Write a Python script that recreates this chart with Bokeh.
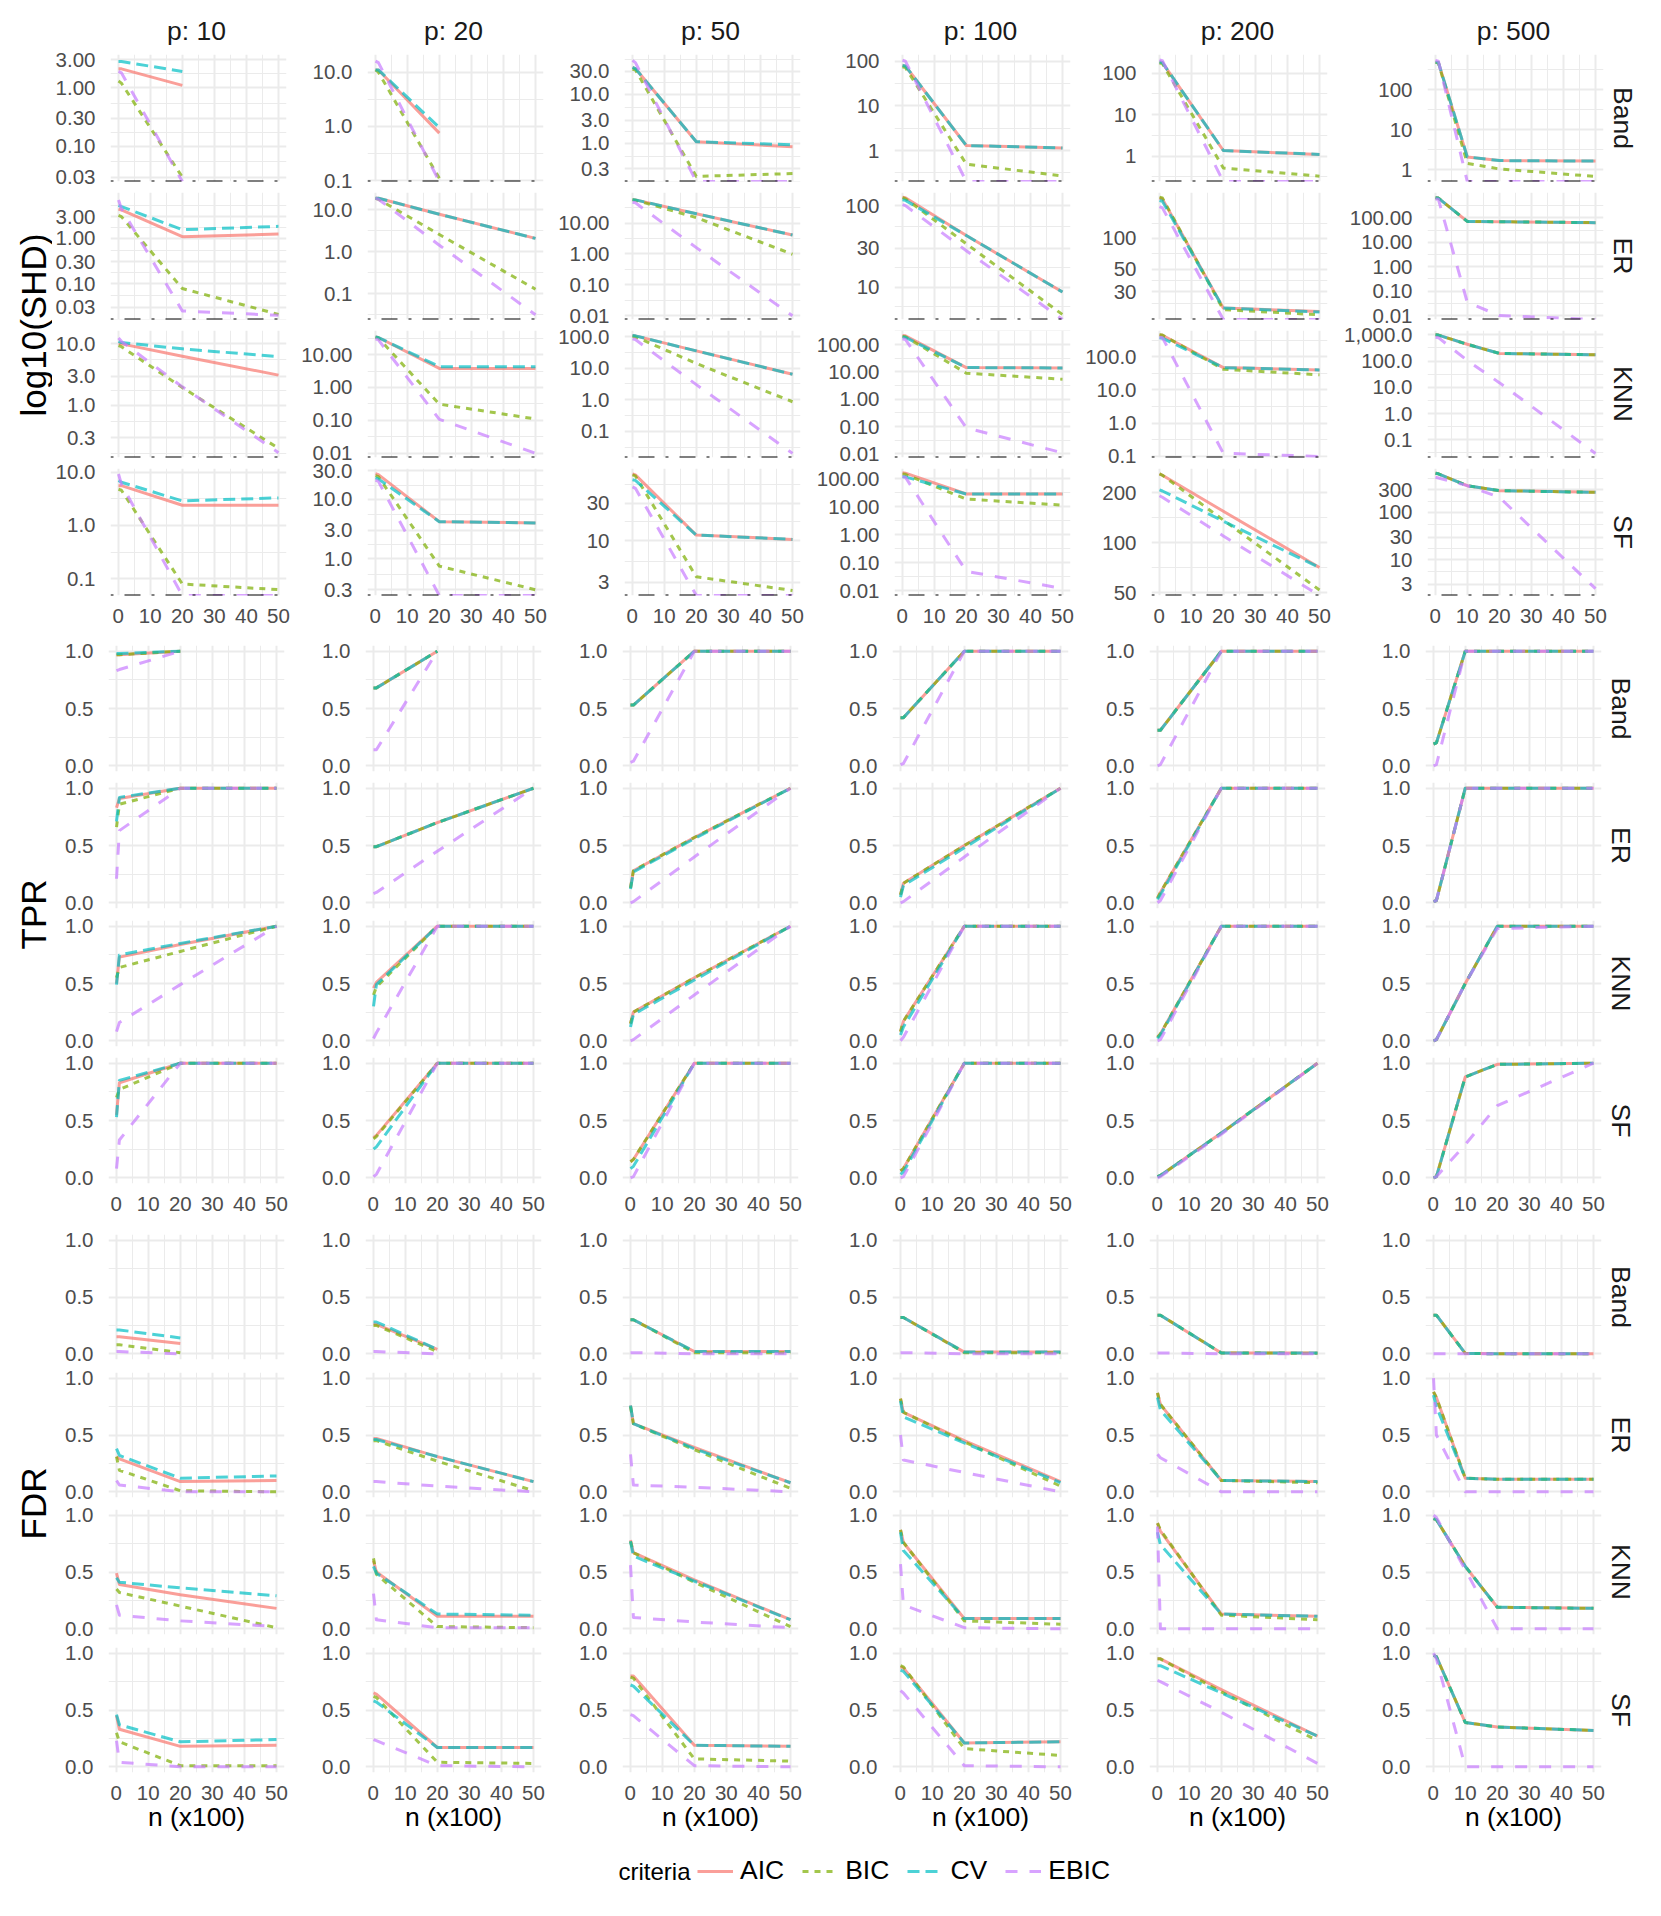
import math
import numpy as np
from bokeh.plotting import figure
from bokeh.layouts import column, row
from bokeh.models import FixedTicker, Range1d, Span, Legend, LegendItem, ColumnDataSource
from bokeh.embed import file_html
from bokeh.resources import INLINE
from bokeh.core.properties import value

# ---------------------------------------------------------------- data
P_VALUES = [10, 20, 50, 100, 200, 500]
GRAPHS = ["Band", "ER", "KNN", "SF"]
CRITERIA = ["AIC", "BIC", "CV", "EBIC"]
N_X = [0.1, 1, 20, 50]            # n (x100) for p <= 200
N_X_500 = [0.1, 1, 10, 20, 50]    # n (x100) for p = 500
X_TICKS = [0, 10, 20, 30, 40, 50]
X_MINOR = [5, 15, 25, 35, 45]
UNIT_TICKS = [0.0, 0.5, 1.0]
UNIT_LABELS = ["0.0", "0.5", "1.0"]
METRIC_TITLES = ["log10(SHD)", "TPR", "FDR"]
X_TITLE = "n (x100)"
LEGEND_TITLE = "criteria"

# SHD  [graph][p] -> values at n
SHD_AIC = [
    [[2.1, 2.1, 1.1], [11, 11, 0.75], [36, 34, 1.08, 0.85], [80, 78, 1.3, 1.15], [185, 180, 1.37, 1.1], [490, 480, 2.1, 1.7, 1.65]],
    [[4.4, 4.2, 1.08, 1.24], [19, 19, 7.9, 2.1], [57, 56, 20, 4.1], [127, 125, 43, 8.7], [250, 245, 20.7, 19.2], [670, 650, 72, 70, 64]],
    [[10, 10, 6.3, 3.1], [34, 33, 3.8, 3.8], [107, 105, 35, 6.4], [215, 210, 14.5, 14], [454, 440, 47, 40], [1000, 980, 436, 196, 174]],
    [[5.6, 5.6, 2.4, 2.4], [27, 26, 4.2, 4.0], [70, 68, 11.8, 10.4], [165, 160, 28.7, 28.7], [260, 255, 155, 71], [680, 660, 370, 290, 267]],
]
SHD_BIC = [
    [[1.3, 1.2, 0.03], [11, 10, 0.11], [33, 32, 0.21, 0.24], [75, 72, 0.5, 0.27], [175, 170, 0.52, 0.33], [480, 470, 1.45, 1.05, 0.68]],
    [[3.2, 3.0, 0.078, 0.021], [19, 18, 2.6, 0.13], [57, 55, 15, 0.98], [125, 122, 34, 4.6], [255, 250, 20, 17.8], [670, 650, 72, 70, 64]],
    [[9.4, 9, 1.95, 0.2], [34, 32, 0.31, 0.11], [100, 98, 14, 0.86], [200, 195, 9, 5.4], [460, 450, 42, 28.5], [1000, 980, 436, 196, 174]],
    [[4.8, 4.6, 0.079, 0.062], [25, 24, 0.75, 0.3], [68, 66, 3.5, 2.35], [150, 145, 19, 11.5], [260, 255, 137, 52], [680, 660, 370, 290, 267]],
]
SHD_CV = [
    [[2.8, 2.8, 1.9], [11, 11, 0.95], [36, 34, 1.08, 0.93], [80, 78, 1.3, 1.15], [185, 180, 1.37, 1.1], [490, 480, 2.1, 1.7, 1.65]],
    [[5.3, 5.0, 1.54, 1.83], [19, 19, 7.9, 2.1], [57, 56, 20, 4.1], [118, 116, 43, 8.7], [236, 232, 20.7, 19], [670, 650, 72, 70, 64]],
    [[11, 10.5, 8.3, 6.2], [34, 33, 4.3, 4.3], [107, 105, 35, 6.4], [190, 185, 14.5, 14], [370, 360, 47, 40], [1000, 980, 436, 196, 174]],
    [[7, 6.5, 2.9, 3.3], [23, 22, 4.2, 4.0], [59, 58, 11.8, 10.4], [120, 118, 28.7, 28.7], [208, 205, 135, 71], [680, 660, 370, 290, 267]],
]
SHD_EBIC = [
    [[1.9, 1.8, 0], [16, 15, 0], [50, 45, 0, 0], [105, 100, 0, 0], [210, 200, 0, 0], [540, 520, 0, 0, 0]],
    [[7, 4.5, 0.025, 0.02], [19, 18, 1.45, 0.032], [47, 45, 1.6, 0.01], [103, 100, 28, 0], [206, 200, 0, 0], [600, 580, 0.035, 0.01, 0]],
    [[12.5, 11, 2.0, 0.17], [30, 28, 0.107, 0.01], [84, 80, 3.0, 0.02], [165, 155, 0.09, 0.011], [385, 375, 0.125, 0.1], [810, 780, 105, 15, 0.03]],
    [[9.3, 6, 0, 0], [21, 20, 0, 0], [48, 46, 0, 0], [118, 115, 0.049, 0.012], [192, 188, 110, 48], [560, 540, 370, 210, 2.4]],
]

# SHD y scales per panel: limits, ticks, tick labels
SHD_LIMITS = [
    [(0.0253, 3.69), (0.096, 21.2), (0.165, 65.9), (0.204, 141), (0.245, 282), (0.51, 760)],
    [(0.0162, 10.2), (0.0247, 26), (0.0076, 97), (4.0, 145), (16, 283), (0.0069, 1100)],
    [(0.142, 16.5), (0.0074, 54), (0.0148, 155), (0.0074, 329), (0.093, 614), (0.021, 1463)],
    [(0.048, 11.8), (0.24, 33), (2.03, 82), (0.0067, 235), (48.2, 280), (1.72, 857)],
]
SHD_TICKS = [
    [[0.03, 0.1, 0.3, 1, 3], [0.1, 1, 10], [0.3, 1, 3, 10, 30], [1, 10, 100], [1, 10, 100], [1, 10, 100]],
    [[0.03, 0.1, 0.3, 1, 3], [0.1, 1, 10], [0.01, 0.1, 1, 10], [10, 30, 100], [30, 50, 100], [0.01, 0.1, 1, 10, 100]],
    [[0.3, 1, 3, 10], [0.01, 0.1, 1, 10], [0.1, 1, 10, 100], [0.01, 0.1, 1, 10, 100], [0.1, 1, 10, 100], [0.1, 1, 10, 100, 1000]],
    [[0.1, 1, 10], [0.3, 1, 3, 10, 30], [3, 10, 30], [0.01, 0.1, 1, 10, 100], [50, 100, 200], [3, 10, 30, 100, 300]],
]
SHD_TICK_LABELS = [
    [["0.03", "0.10", "0.30", "1.00", "3.00"], ["0.1", "1.0", "10.0"], ["0.3", "1.0", "3.0", "10.0", "30.0"],
     ["1", "10", "100"], ["1", "10", "100"], ["1", "10", "100"]],
    [["0.03", "0.10", "0.30", "1.00", "3.00"], ["0.1", "1.0", "10.0"], ["0.01", "0.10", "1.00", "10.00"],
     ["10", "30", "100"], ["30", "50", "100"], ["0.01", "0.10", "1.00", "10.00", "100.00"]],
    [["0.3", "1.0", "3.0", "10.0"], ["0.01", "0.10", "1.00", "10.00"], ["0.1", "1.0", "10.0", "100.0"],
     ["0.01", "0.10", "1.00", "10.00", "100.00"], ["0.1", "1.0", "10.0", "100.0"], ["0.1", "1.0", "10.0", "100.0", "1,000.0"]],
    [["0.1", "1.0", "10.0"], ["0.3", "1.0", "3.0", "10.0", "30.0"], ["3", "10", "30"],
     ["0.01", "0.10", "1.00", "10.00", "100.00"], ["50", "100", "200"], ["3", "10", "30", "100", "300"]],
]

TPR_AIC = [
    [[0.97, 0.97, 1.0], [0.68, 0.68, 1.0], [0.53, 0.53, 1, 1], [0.42, 0.42, 1, 1], [0.31, 0.31, 1, 1], [0.19, 0.2, 1, 1, 1]],
    [[0.83, 0.91, 1, 1], [0.49, 0.49, 0.7, 1], [0.13, 0.28, 0.57, 1], [0.07, 0.17, 0.5, 1], [0.04, 0.09, 1, 1], [0.01, 0.02, 1, 1, 1]],
    [[0.5, 0.73, 0.84, 1], [0.46, 0.51, 1, 1], [0.15, 0.25, 0.55, 1], [0.08, 0.17, 1, 1], [0.03, 0.06, 1, 1], [0, 0.01, 0.5, 1, 1]],
    [[0.55, 0.83, 1, 1], [0.35, 0.37, 1, 1], [0.14, 0.16, 1, 1], [0.06, 0.08, 1, 1], [0.01, 0.02, 0.39, 1], [0, 0.01, 0.88, 0.99, 1]],
]
TPR_BIC = [
    [[0.97, 0.97, 1.0], [0.68, 0.68, 1.0], [0.53, 0.53, 1, 1], [0.42, 0.42, 1, 1], [0.31, 0.31, 1, 1], [0.19, 0.2, 1, 1, 1]],
    [[0.66, 0.86, 1, 1], [0.49, 0.49, 0.7, 1], [0.13, 0.28, 0.57, 1], [0.07, 0.17, 0.5, 1], [0.04, 0.09, 1, 1], [0.01, 0.02, 1, 1, 1]],
    [[0.55, 0.64, 0.78, 1], [0.4, 0.47, 1, 1], [0.15, 0.25, 0.55, 1], [0.08, 0.17, 1, 1], [0.03, 0.06, 1, 1], [0, 0.01, 0.5, 1, 1]],
    [[0.7, 0.77, 1, 1], [0.34, 0.36, 1, 1], [0.14, 0.16, 1, 1], [0.06, 0.08, 1, 1], [0.01, 0.02, 0.39, 1], [0, 0.01, 0.88, 0.99, 1]],
]
TPR_CV = [
    [[0.98, 0.98, 1.0], [0.68, 0.68, 1.0], [0.53, 0.53, 1, 1], [0.42, 0.42, 1, 1], [0.31, 0.31, 1, 1], [0.19, 0.2, 1, 1, 1]],
    [[0.71, 0.92, 1, 1], [0.49, 0.49, 0.7, 1], [0.12, 0.27, 0.56, 1], [0.05, 0.15, 0.48, 1], [0.03, 0.07, 1, 1], [0.01, 0.02, 1, 1, 1]],
    [[0.49, 0.75, 0.85, 1], [0.3, 0.49, 1, 1], [0.12, 0.23, 0.53, 1], [0.05, 0.12, 1, 1], [0.02, 0.05, 1, 1], [0, 0.01, 0.5, 1, 1]],
    [[0.53, 0.85, 1, 1], [0.25, 0.27, 1, 1], [0.08, 0.1, 1, 1], [0.03, 0.05, 1, 1], [0.01, 0.02, 0.39, 1], [0, 0.01, 0.88, 0.99, 1]],
]
TPR_EBIC = [
    [[0.83, 0.84, 1.0], [0.14, 0.14, 1.0], [0.03, 0.04, 1, 1], [0.01, 0.02, 1, 1], [0, 0.01, 1, 1], [0, 0.01, 1, 1, 1]],
    [[0.21, 0.63, 1, 1], [0.08, 0.09, 0.45, 1], [0, 0.01, 0.4, 1], [0, 0.01, 0.4, 1], [0, 0.02, 1, 1], [0.01, 0.02, 1, 1, 1]],
    [[0.08, 0.16, 0.49, 1], [0.02, 0.07, 1, 1], [0, 0.01, 0.4, 1], [0, 0.03, 1, 1], [0, 0.01, 1, 1], [0, 0.01, 0.5, 0.98, 1]],
    [[0.08, 0.33, 1, 1], [0.01, 0.03, 1, 1], [0, 0.01, 1, 1], [0, 0.01, 1, 1], [0, 0.01, 0.38, 1], [0, 0.01, 0.29, 0.63, 1]],
]

FDR_AIC = [
    [[0.15, 0.15, 0.09], [0.26, 0.26, 0.04], [0.3, 0.3, 0.02, 0.02], [0.32, 0.32, 0.015, 0.015], [0.34, 0.34, 0.008, 0.008], [0.34, 0.34, 0.004, 0, 0]],
    [[0.31, 0.29, 0.09, 0.1], [0.47, 0.47, 0.31, 0.09], [0.76, 0.6, 0.39, 0.08], [0.82, 0.7, 0.45, 0.09], [0.87, 0.77, 0.1, 0.09], [0.88, 0.83, 0.12, 0.11, 0.11]],
    [[0.49, 0.39, 0.3, 0.18], [0.6, 0.5, 0.11, 0.11], [0.78, 0.67, 0.43, 0.08], [0.87, 0.76, 0.09, 0.09], [0.93, 0.86, 0.13, 0.11], [0.97, 0.96, 0.55, 0.19, 0.18]],
    [[0.45, 0.33, 0.18, 0.19], [0.65, 0.64, 0.17, 0.17], [0.8, 0.8, 0.19, 0.18], [0.88, 0.87, 0.21, 0.22], [0.95, 0.95, 0.68, 0.27], [0.98, 0.97, 0.39, 0.35, 0.32]],
]
FDR_BIC = [
    [[0.08, 0.08, 0.01], [0.25, 0.25, 0.02], [0.3, 0.3, 0.01, 0.01], [0.32, 0.32, 0.01, 0.01], [0.34, 0.34, 0.008, 0.005], [0.34, 0.34, 0.004, 0, 0]],
    [[0.31, 0.19, 0.01, 0.0], [0.45, 0.45, 0.27, 0.01], [0.75, 0.6, 0.37, 0.03], [0.82, 0.7, 0.44, 0.05], [0.87, 0.77, 0.1, 0.08], [0.88, 0.83, 0.12, 0.11, 0.11]],
    [[0.35, 0.32, 0.2, 0.01], [0.62, 0.48, 0.02, 0.01], [0.77, 0.67, 0.41, 0.02], [0.87, 0.76, 0.07, 0.04], [0.93, 0.87, 0.12, 0.08], [0.97, 0.96, 0.55, 0.19, 0.18]],
    [[0.3, 0.22, 0.01, 0.01], [0.62, 0.61, 0.04, 0.03], [0.79, 0.78, 0.07, 0.05], [0.89, 0.88, 0.16, 0.1], [0.95, 0.95, 0.66, 0.23], [0.98, 0.97, 0.39, 0.35, 0.32]],
]
FDR_CV = [
    [[0.21, 0.21, 0.14], [0.28, 0.28, 0.04], [0.3, 0.3, 0.02, 0.02], [0.32, 0.32, 0.015, 0.015], [0.34, 0.34, 0.008, 0.008], [0.34, 0.34, 0.004, 0, 0]],
    [[0.38, 0.32, 0.12, 0.14], [0.46, 0.46, 0.31, 0.09], [0.76, 0.6, 0.38, 0.08], [0.8, 0.66, 0.43, 0.08], [0.83, 0.72, 0.1, 0.09], [0.85, 0.75, 0.12, 0.11, 0.11]],
    [[0.45, 0.41, 0.36, 0.29], [0.55, 0.49, 0.13, 0.12], [0.77, 0.64, 0.42, 0.08], [0.85, 0.69, 0.09, 0.09], [0.85, 0.74, 0.13, 0.11], [0.97, 0.96, 0.55, 0.19, 0.18]],
    [[0.46, 0.37, 0.22, 0.24], [0.58, 0.57, 0.17, 0.17], [0.72, 0.71, 0.19, 0.18], [0.85, 0.84, 0.21, 0.22], [0.89, 0.89, 0.65, 0.27], [0.98, 0.97, 0.39, 0.35, 0.32]],
]
FDR_EBIC = [
    [[0.02, 0.02, 0], [0.02, 0.02, 0], [0.01, 0.01, 0, 0], [0.01, 0.01, 0, 0], [0.008, 0.008, 0, 0], [0, 0, 0, 0, 0]],
    [[0.1, 0.06, 0, 0], [0.09, 0.09, 0.05, 0], [0.33, 0.06, 0.04, 0], [0.5, 0.28, 0.17, 0], [0.33, 0.3, 0, 0], [1.0, 0.5, 0, 0, 0]],
    [[0.21, 0.12, 0.07, 0.02], [0.31, 0.08, 0.01, 0.01], [0.56, 0.1, 0.06, 0.01], [0.57, 0.21, 0.01, 0], [0.9, 0.0, 0, 0], [1.0, 0.98, 0.52, 0, 0]],
    [[0.23, 0.04, 0, 0], [0.24, 0.23, 0.01, 0], [0.46, 0.45, 0.01, 0], [0.67, 0.65, 0.01, 0], [0.76, 0.75, 0.48, 0.03], [1.0, 0.95, 0, 0, 0]],
]

METRIC_SERIES = [
    [SHD_AIC, SHD_BIC, SHD_CV, SHD_EBIC],
    [TPR_AIC, TPR_BIC, TPR_CV, TPR_EBIC],
    [FDR_AIC, FDR_BIC, FDR_CV, FDR_EBIC],
]

# ---------------------------------------------------------------- style / layout
COLORS = ["#F8766D", "#7CAE00", "#00BFC4", "#C77CFF"]
DASHES = ["solid", "6 6", "12 6", "12 12"]
FONT = "Liberation Sans"
TICK_SIZE = "20.5px"
TICK_COLOR = "#4D4D4D"
STRIP_SIZE = "26.5px"
STRIP_COLOR = "#1A1A1A"
GRID_COLOR = "#EBEBEB"

# horizontal layout (page pixels)
TITLE_W = 52
COL_BORDER_LEFT = [56, 73, 73, 86, 73, 92]
COL_BORDER_RIGHT = [8, 8, 8, 8, 8, 4]
FRAME_W = 176
STRIP_W = 40
TOTAL_W = TITLE_W + sum(COL_BORDER_LEFT) + sum(COL_BORDER_RIGHT) + 6 * FRAME_W + STRIP_W

# vertical layout (page pixels): frame tops / heights of the 12 panel rows
ROW_TOPS = [54, 192, 330, 468, 645, 782, 920, 1057, 1234, 1372, 1509, 1647]
ROW_H = [127, 127, 127, 127, 126, 126, 126, 126, 125, 125, 125, 125]
# canvas boundaries between consecutive panel rows (row r spans SPLITS[r]..SPLITS[r+1])
SPLITS = [46, 192, 326, 463, 630, 776, 914, 1051, 1220, 1365, 1503, 1640, 1840]
TOP_STRIP_H = SPLITS[0]
LEGEND_H = 62


def log_minor(ticks):
    lg = [math.log10(t) for t in ticks]
    mids = [(a + b) / 2 for a, b in zip(lg, lg[1:])]
    ext = [lg[0] - (lg[1] - lg[0]) / 2, lg[-1] + (lg[-1] - lg[-2]) / 2]
    return [10 ** m for m in sorted(mids + ext)]


def style_axis(ax, standoff):
    ax.axis_line_color = None
    ax.major_tick_line_color = None
    ax.minor_tick_line_color = None
    ax.major_label_text_font = FONT
    ax.major_label_text_font_size = TICK_SIZE
    ax.major_label_text_color = TICK_COLOR
    ax.major_label_standoff = standoff


def make_panel(m, g, c):
    r = 4 * m + g
    bt = ROW_TOPS[r] - SPLITS[r]
    bb = SPLITS[r + 1] - (ROW_TOPS[r] + ROW_H[r])
    bottom_row = g == 3
    if m == 0:
        lo, hi = SHD_LIMITS[g][c]
        yr = Range1d(lo, hi)
        ytype = "log"
        ticks = SHD_TICKS[g][c]
        labels = SHD_TICK_LABELS[g][c]
        minor = log_minor(ticks)
    else:
        lo = None
        yr = Range1d(-0.05, 1.05)
        ytype = "linear"
        ticks = UNIT_TICKS
        labels = UNIT_LABELS
        minor = [0.25, 0.75]
    p = figure(frame_width=FRAME_W, frame_height=ROW_H[r], title=None,
               x_range=Range1d(-2.4, 52.5), y_range=yr, y_axis_type=ytype,
               x_axis_location="below" if bottom_row else None,
               toolbar_location=None, output_backend="svg",
               min_border_left=COL_BORDER_LEFT[c], min_border_right=COL_BORDER_RIGHT[c],
               min_border_top=bt, min_border_bottom=bb,
               outline_line_color=None, background_fill_color="white")
    yax = p.yaxis[0]
    yax.ticker = FixedTicker(ticks=ticks, minor_ticks=minor)
    yax.major_label_overrides = {t: l for t, l in zip(ticks, labels)}
    style_axis(yax, 9)
    p.ygrid.ticker = FixedTicker(ticks=ticks, minor_ticks=minor)
    p.xgrid.ticker = FixedTicker(ticks=X_TICKS, minor_ticks=X_MINOR)
    for gr in (p.xgrid, p.ygrid):
        gr.grid_line_color = GRID_COLOR
        gr.grid_line_width = 2
        gr.minor_grid_line_color = GRID_COLOR
        gr.minor_grid_line_width = 1
    if bottom_row:
        xax = p.xaxis[0]
        xax.ticker = FixedTicker(ticks=X_TICKS)
        style_axis(xax, 7)
        if m == 2:
            xax.axis_label = X_TITLE
            xax.axis_label_text_font = FONT
            xax.axis_label_text_font_size = STRIP_SIZE
            xax.axis_label_text_font_style = "normal"
            xax.axis_label_text_color = "black"
            xax.axis_label_standoff = -1
    xs = N_X_500 if P_VALUES[c] == 500 else N_X
    for k, series in enumerate(METRIC_SERIES[m]):
        vals = series[g][c]
        if m == 0:
            vals = [max(v, lo) for v in vals]   # squish zeros onto the lower limit
        p.line(xs[:len(vals)], vals, line_color=COLORS[k], line_alpha=0.7, line_width=3,
               line_dash=DASHES[k], line_join="round")
    if m == 0:
        p.add_layout(Span(location=lo, dimension="width", line_color="black",
                          line_width=2, line_dash="3 11 16 11"))
    return p


def text_fig(w, h):
    f = figure(width=w, height=h, title=None, x_range=Range1d(0, w), y_range=Range1d(h, 0),
               toolbar_location=None, output_backend="svg", x_axis_location=None,
               y_axis_location=None, min_border=0, outline_line_color=None)
    f.xgrid.visible = False
    f.ygrid.visible = False
    return f


def block(m):
    y0 = SPLITS[4 * m]
    H = SPLITS[4 * m + 4] - y0
    grid_rows = [row(*[make_panel(m, g, c) for c in range(6)]) for g in range(4)]
    rows_idx = range(4 * m, 4 * m + 4)
    centers = [ROW_TOPS[r] + ROW_H[r] / 2 - y0 for r in rows_idx]
    mid = (ROW_TOPS[4 * m] + ROW_TOPS[4 * m + 3] + ROW_H[4 * m + 3]) / 2 - y0
    tf = text_fig(TITLE_W, H)
    tf.text(x=[33], y=[mid], text=[METRIC_TITLES[m]], angle=math.pi / 2,
            text_font=value(FONT), text_font_size="35px", text_color="black",
            text_align="center", text_baseline="middle")
    sf = text_fig(STRIP_W, H)
    sf.text(x=[15.6] * 4, y=centers, text=GRAPHS, angle=-math.pi / 2,
            text_font=value(FONT), text_font_size=STRIP_SIZE, text_color=STRIP_COLOR,
            text_align="center", text_baseline="middle")
    return row(tf, column(*grid_rows), sf)


# top strip with p labels
top = text_fig(TOTAL_W, TOP_STRIP_H)
centers_x = []
acc = TITLE_W
for c in range(6):
    acc += COL_BORDER_LEFT[c]
    centers_x.append(acc + FRAME_W / 2)
    acc += FRAME_W + COL_BORDER_RIGHT[c]
top.text(x=centers_x, y=[30] * 6, text=[f"p: {p}" for p in P_VALUES],
         text_font=value(FONT), text_font_size=STRIP_SIZE, text_color=STRIP_COLOR,
         text_align="center", text_baseline="middle")

# legend
leg = text_fig(TOTAL_W, LEGEND_H)
leg.text(x=[690], y=[31], text=[LEGEND_TITLE], text_font=value(FONT), text_font_size="24px",
         text_color="black", text_align="right", text_baseline="middle")
items = []
for k, name in enumerate(CRITERIA):
    src = ColumnDataSource(dict(x=np.array([np.nan]), y=np.array([np.nan])))
    r = leg.line(x="x", y="y", source=src, line_color=COLORS[k],
                 line_alpha=0.7, line_width=3, line_dash=DASHES[k])
    items.append(LegendItem(label=name, renderers=[r]))
legend = Legend(items=items, orientation="horizontal", location=(697, 16), glyph_width=36,
                glyph_height=20, label_standoff=7, spacing=18, padding=0, margin=0,
                border_line_color=None, background_fill_alpha=0,
                label_text_font=FONT, label_text_font_size=STRIP_SIZE, label_text_color="black")
leg.add_layout(legend, "center")

layout = column(top, block(0), block(1), block(2), leg)
open("out.html", "w").write(file_html(layout, INLINE))
